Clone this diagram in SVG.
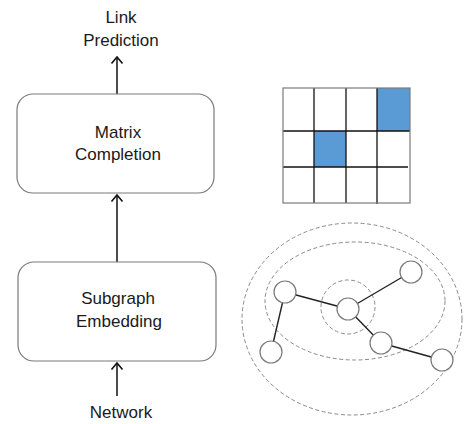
<svg xmlns="http://www.w3.org/2000/svg" width="464" height="424" viewBox="0 0 464 424">
<defs>
<marker id="arr" viewBox="0 0 12 14" refX="10.5" refY="7" markerWidth="12" markerHeight="14" markerUnits="userSpaceOnUse" orient="auto">
<path d="M4,1.5 L10.5,7 L4,12.5" fill="none" stroke="#111" stroke-width="1.6"/>
</marker>
<style>
text{font-family:"Liberation Sans",Arial,sans-serif;font-size:17px;fill:#1a1a1a;text-anchor:middle}
.box{fill:#fff;stroke:#7a7a7a;stroke-width:1.2}
.conn{stroke:#111;stroke-width:1.5;fill:none}
.grid{stroke:#111;stroke-width:1.3}
.dash{fill:none;stroke:#8a8a8a;stroke-width:1;stroke-dasharray:4 2.5}
.nd{fill:#fff;stroke:#7a7a7a;stroke-width:1.2}
.ed{stroke:#222;stroke-width:1.4}
</style>
</defs>
<rect width="464" height="424" fill="#fff"/>
<g id="connectors">
<line class="conn" x1="117" y1="94" x2="117" y2="57" marker-end="url(#arr)"/>
<line class="conn" x1="117" y1="262" x2="117" y2="195" marker-end="url(#arr)"/>
<line class="conn" x1="117" y1="396" x2="117" y2="363" marker-end="url(#arr)"/>
</g>
<g id="link-prediction">
<text x="121" y="23">Link</text>
<text x="121" y="46">Prediction</text>
</g>
<g id="matrix-completion">
<rect class="box" x="17" y="94" width="197" height="99" rx="16"/>
<text x="118" y="138">Matrix</text>
<text x="118" y="160">Completion</text>
</g>
<g id="subgraph-embedding">
<rect class="box" x="18" y="262" width="198" height="99" rx="16"/>
<text x="118" y="304">Subgraph</text>
<text x="119" y="327">Embedding</text>
</g>
<g id="network">
<text x="121" y="418">Network</text>
</g>
<g id="matrix">
<rect x="377" y="88" width="33" height="43" fill="#5b9bd5"/>
<rect x="314" y="131" width="32" height="36" fill="#5b9bd5"/>
<line class="grid" x1="314" y1="88" x2="314" y2="203"/>
<line class="grid" x1="346" y1="88" x2="346" y2="203"/>
<line class="grid" x1="377" y1="88" x2="377" y2="204"/>
<line class="grid" x1="283" y1="131" x2="410" y2="131"/>
<line class="grid" x1="283" y1="167" x2="408" y2="167"/>
<rect x="283" y="88" width="127" height="115" fill="none" stroke="#7a7a7a" stroke-width="1.2"/>
</g>
<g id="graph">
<ellipse class="dash" cx="352" cy="319" rx="110" ry="96"/>
<ellipse class="dash" cx="355" cy="301" rx="90" ry="59"/>
<circle class="dash" cx="348" cy="307" r="27"/>
<line class="ed" x1="285" y1="292" x2="348" y2="309"/>
<line class="ed" x1="348" y1="309" x2="411" y2="272"/>
<line class="ed" x1="285" y1="292" x2="271" y2="352"/>
<line class="ed" x1="348" y1="309" x2="381" y2="343"/>
<line class="ed" x1="381" y1="343" x2="442" y2="360"/>
<circle class="nd" cx="285" cy="292" r="11"/>
<circle class="nd" cx="348" cy="309" r="11"/>
<circle class="nd" cx="411" cy="272" r="11"/>
<circle class="nd" cx="271" cy="352" r="11"/>
<circle class="nd" cx="381" cy="343" r="11"/>
<circle class="nd" cx="442" cy="360" r="11"/>
</g>
</svg>
